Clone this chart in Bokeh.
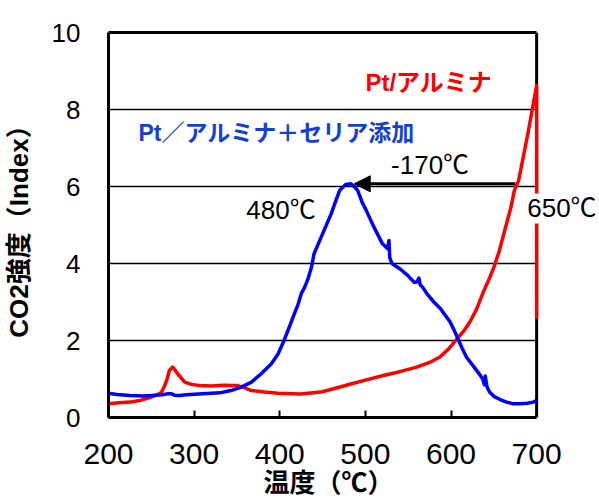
from bokeh.plotting import figure
from bokeh.models import (Range1d, SingleIntervalTicker, FixedTicker, LinearAxis, Label,
                          Arrow, NormalHead, Title)
from bokeh.embed import file_html
from bokeh.resources import INLINE

# ---- data ----
temp_red = [200, 212, 225, 238, 250, 258, 262, 265, 268, 271, 275, 281, 289, 297, 306,
            320, 335, 343, 350, 357, 367, 382, 398, 424, 448, 465, 483, 500, 521, 540,
            560, 575, 587, 598, 607, 615, 622, 630, 637, 645, 650, 656, 662, 670, 674,
            679, 690, 700, 700]
co2_red = [0.36, 0.38, 0.40, 0.45, 0.53, 0.60, 0.66, 0.80, 0.96, 1.22, 1.31, 1.13, 0.92, 0.86, 0.83,
           0.82, 0.84, 0.83, 0.83, 0.79, 0.70, 0.66, 0.63, 0.61, 0.66, 0.76, 0.87, 0.97, 1.09, 1.19,
           1.31, 1.43, 1.57, 1.80, 2.04, 2.25, 2.48, 2.82, 3.22, 3.62, 3.90, 4.30, 4.80, 5.46, 5.90,
           6.16, 7.40, 8.62, 2.57]

temp_blue = [200, 210, 225, 240, 250, 263, 270, 273, 277, 283, 291, 305, 320, 330, 343,
             355, 367, 378, 390, 398, 405, 412, 417, 421, 425, 429, 433, 437, 440, 450,
             460, 465, 470, 477, 483, 487, 491, 496, 501, 509, 520, 526, 527.5, 528.5, 531,
             541, 550, 557, 560, 562.5, 564, 567, 572, 580, 588, 599, 604, 608, 613, 618,
             627, 634, 637, 639, 640, 642, 645, 650, 658, 665, 672, 680, 689, 696, 700]
co2_blue = [0.63, 0.60, 0.57, 0.56, 0.57, 0.59, 0.62, 0.62, 0.58, 0.57, 0.59, 0.61, 0.63, 0.64, 0.70,
            0.79, 0.92, 1.13, 1.39, 1.65, 2.00, 2.40, 2.69, 2.91, 3.21, 3.38, 3.60, 3.90, 4.25, 4.77,
            5.29, 5.60, 5.90, 6.05, 6.07, 6.00, 5.90, 5.60, 5.38, 4.99, 4.51, 4.38, 4.60, 4.15, 4.00,
            3.85, 3.68, 3.51, 3.52, 3.62, 3.45, 3.38, 3.21, 3.00, 2.82, 2.48, 2.25, 2.05, 1.80, 1.57,
            1.31, 1.10, 1.00, 0.85, 1.08, 0.80, 0.66, 0.55, 0.46, 0.40, 0.36, 0.36, 0.37, 0.40, 0.44]

x_min, x_max = 200, 700
y_min, y_max = 0, 10
x_label = "温度（℃）"
y_label = "CO2強度（Index）"

ann_text = ["Pt/アルミナ", "Pt／アルミナ＋セリア添加", "-170℃", "480℃", "650℃"]
ann_x = [500, 235, 530, 361, 689]
ann_y = [8.7, 7.38, 6.55, 5.38, 5.43]
ann_color = ["#ff0000", "#1440d4", "black", "black", "black"]
ann_bold = [True, True, False, False, False]
ann_size = ["24px", "23px", "26px", "26px", "26px"]
ann_bg = [None, None, None, None, "white"]

arrow_x_start, arrow_x_end, arrow_y = 675, 487, 6.07

FONT = "Liberation Sans, Noto Sans CJK JP"

# frame runs past x=700 so that the "650℃" note can cross the right border
frame_px_plot, frame_px_extra = 429, 63
x_view_end = x_max + (x_max - x_min) * frame_px_extra / frame_px_plot

p = figure(width=599, height=499, x_range=Range1d(x_min, x_view_end), y_range=Range1d(y_min, y_max),
           output_backend="svg", toolbar_location=None,
           min_border_left=107, min_border_right=0, min_border_top=32, min_border_bottom=82)

p.background_fill_color = "white"
p.border_fill_color = "white"
p.outline_line_color = None

p.xgrid.visible = False
yt = SingleIntervalTicker(interval=2)
p.yaxis.ticker = yt
p.ygrid.ticker = yt
p.ygrid.grid_line_color = "black"
p.ygrid.grid_line_width = 1.5
p.ygrid.cross_bounds = (x_min, x_max)
p.xaxis.ticker = SingleIntervalTicker(interval=100)
p.xaxis.bounds = (x_min, x_max)

for ax in (p.xaxis, p.yaxis):
    ax.axis_line_color = "black"
    ax.axis_line_width = 3
    ax.minor_tick_line_color = None
    ax.major_label_text_font = FONT
    ax.major_label_text_color = "black"
    ax.axis_label_text_font = FONT
    ax.axis_label_text_font_style = "bold"
    ax.axis_label_text_color = "black"

p.xaxis.major_tick_in = 7
p.xaxis.major_tick_out = 0
p.xaxis.major_tick_line_width = 2
p.xaxis.major_tick_line_color = "black"
p.xaxis.major_label_text_font_size = "30px"
p.xaxis.major_label_standoff = 22

p.yaxis.major_tick_in = 0
p.yaxis.major_tick_out = 0
p.yaxis.major_tick_line_color = None
p.yaxis.major_label_text_font_size = "26px"
p.yaxis.major_label_standoff = 24
p.yaxis.axis_label = y_label
p.yaxis.axis_label_text_font_size = "26px"
p.yaxis.axis_label_standoff = 15

# x-axis title, centred under the 200-700 span rather than the whole frame
p.add_layout(Title(text=x_label, align="left", offset=155, standoff=0, vertical_align="middle",
                   text_font=FONT, text_font_size="26px", text_font_style="bold",
                   text_color="black"), "below")

# top and right borders of the plotting box
top = LinearAxis(ticker=FixedTicker(ticks=[]), bounds=(x_min, x_max), axis_line_width=3,
                 axis_line_color="black", major_tick_line_color=None, minor_tick_line_color=None,
                 major_label_text_font_size="0px")
p.add_layout(top, "above")
p.segment(x0=[x_max], y0=[y_min], x1=[x_max], y1=[y_max], line_color="black", line_width=3)

p.line(temp_red, co2_red, line_color="#ff0000", line_width=3.5, line_join="round")
p.line(temp_blue, co2_blue, line_color="#0000ff", line_width=3.5, line_join="round")

p.add_layout(Arrow(end=NormalHead(size=16, fill_color="black", line_color="black"),
                   x_start=arrow_x_start, y_start=arrow_y, x_end=arrow_x_end, y_end=arrow_y,
                   line_color="black", line_width=3))

for t, x, y, c, b, s, bg in zip(ann_text, ann_x, ann_y, ann_color, ann_bold, ann_size, ann_bg):
    lab = Label(x=x, y=y, text=t, text_color=c, text_font=FONT,
                text_font_style="bold" if b else "normal", text_font_size=s,
                text_align="left", text_baseline="middle")
    if bg:
        lab.background_fill_color = bg
    p.add_layout(lab)

open("out.html", "w").write(file_html(p, INLINE))
